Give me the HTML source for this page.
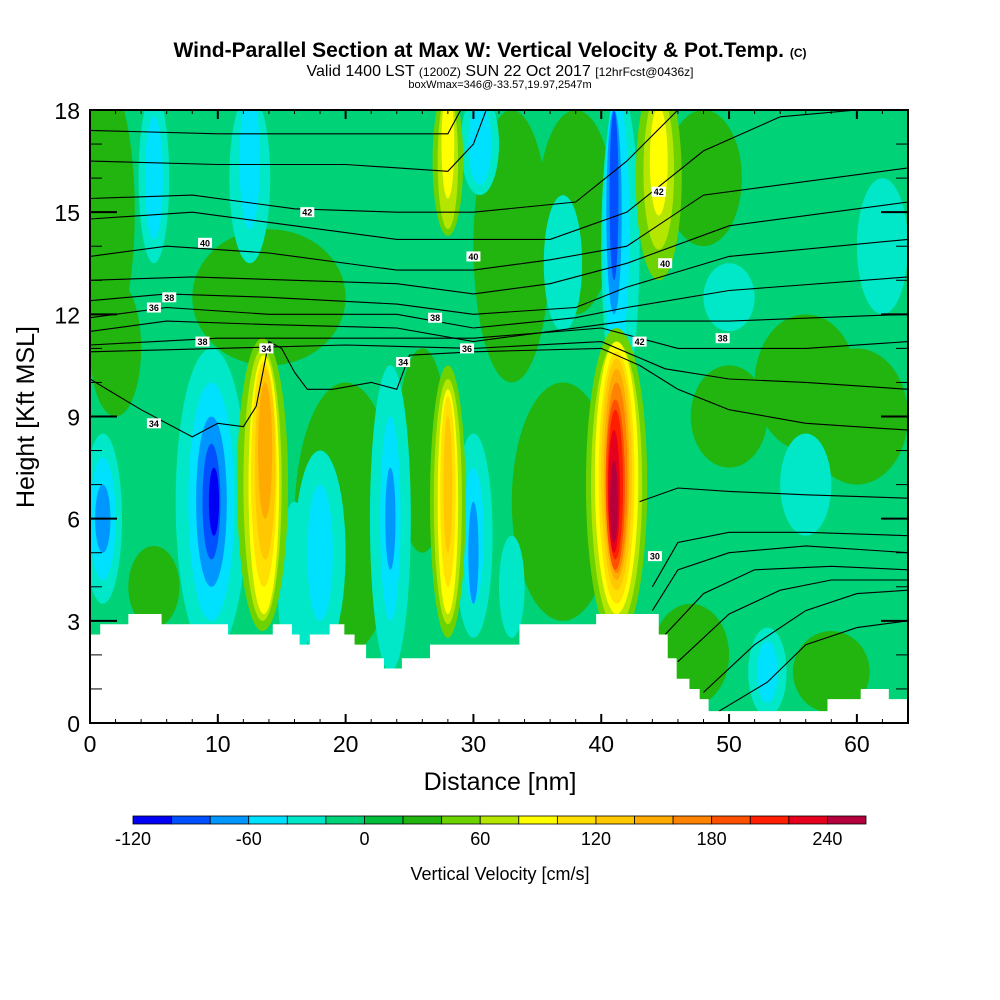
<!DOCTYPE html>
<html><head><meta charset="utf-8">
<style>
body{margin:0;background:#fff;}
svg{display:block;font-family:"Liberation Sans",sans-serif;}
</style></head>
<body>
<svg id="chart" width="1000" height="1000" viewBox="0 0 1000 1000">
<text x="490" y="57" text-anchor="middle" font-size="21" font-weight="bold">Wind-Parallel Section at Max W: Vertical Velocity &amp; Pot.Temp. <tspan font-size="12">(C)</tspan></text>
<text x="500" y="76" text-anchor="middle" font-size="16">Valid 1400 LST <tspan font-size="12">(1200Z)</tspan> SUN 22 Oct 2017 <tspan font-size="12">[12hrFcst@0436z]</tspan></text>
<text x="500" y="88" text-anchor="middle" font-size="11">boxWmax=346@-33.57,19.97,2547m</text>
<defs><clipPath id="pc"><rect x="90" y="110" width="818" height="613"/></clipPath></defs>
<g id="field" clip-path="url(#pc)"></g>
<g id="contours" clip-path="url(#pc)"></g>
<g id="terrain"></g>
<g id="axes"></g>
<text x="500" y="790" text-anchor="middle" font-size="25">Distance [nm]</text>
<text transform="translate(34,417) rotate(-90)" text-anchor="middle" font-size="25">Height [Kft MSL]</text>
<g id="cbar"></g>
<text x="500" y="880" text-anchor="middle" font-size="18">Vertical Velocity [cm/s]</text>
</svg>
<script>
// ---- data ----
const levels=[-120,-100,-80,-60,-40,-20,0,20,40,60,80,100,120,140,160,180,200,220,240,260];
const colors=["#0000f5","#0050ff","#0096ff","#00e0ff","#00e8c8","#00d278","#00be3c","#22b40f","#6cd200","#b4e600","#ffff00","#ffe000","#ffc800","#ffaa00","#ff8200","#ff5000","#ff1e00","#e6001e","#b4003c"];
const cbarLabels=[-120,-60,0,60,120,180,240];
const backgroundW=-10;
// blobs: [x nm, y kft, rx nm, ry kft, w cm/s]
const blobX=[1,14,20,37,33,38,48,56,60,50,47,58,5,26,2,
 1,9.5,18,23.5,30,33,5,12.5,30.5,41.5,37,50,53,56,62,16,
 1,9.5,18,23.5,30,5,12.5,30.5,41.2,53,
 1,9.5,23.5,30,41,
 9.5,41,9.7,
 13.5,28,41.2,28,44.5,
 13.5,28,41.2,28,44.5,
 13.6,28,41.2,28,44.5,
 13.6,28,41.2,13.7,28,41.2,13.7,41.2,41.2,41.1,41.1,41.0,41];
const blobY=[15,12.5,6,6.5,14,15,16,10,9,9,2,1.5,4,8,11,
 6,6.5,5,6,5.5,4,16,16,17,14,13.5,12.5,1.5,7,14,4,
 6,6.5,5,6,5.5,16,16.5,17,14.5,1.5,
 6,6.5,6,5,15,
 6.5,15.5,6.5,
 7,6.5,7,16.5,16,
 7,6.5,7,16.5,16.2,
 7,6.5,7.2,17,16.5,
 7.3,6.8,7.2,7.6,7,7.3,8,7.3,7.2,7,7,6.8,6.5];
const blobRX=[2.5,6,4,4,3,3,3,4,4,3,3,3,2,2,2,
 1.5,2.8,2,1.6,1.5,1,1.2,1.6,1.5,1.5,1.5,2,1.5,2,2,1.3,
 1,1.8,1,0.8,0.8,0.7,0.8,0.9,1,0.8,
 0.6,1.2,0.4,0.4,0.6,
 0.7,0.35,0.4,
 2,1.4,2.4,1.2,1.8,
 1.5,1.1,2,0.8,1.2,
 1.2,0.8,1.7,0.5,0.7,
 1,0.6,1.4,0.8,0.35,1.2,0.55,1,0.85,0.75,0.6,0.45,0.3];
const blobRY=[4,2,4,3.5,4,3,2,2,2,1.5,1.5,1.2,1.2,3,2,
 2.5,4.5,3,4.5,3,1.5,2.5,2.5,1.5,4.5,2,1,1.3,1.5,2,2.5,
 1.8,3.5,2,3,2,1.8,2,1.2,4,0.9,
 1,2.5,1.5,1.5,3,
 1.7,2.5,1,
 4.3,4,4.6,2.2,3,
 4,3.6,4.2,2,2.3,
 3.8,3.3,4,1.6,1.6,
 3.3,2.8,3.7,2.8,2,3.4,2,3.1,2.8,2.5,2.2,1.8,1.2];
const blobW=[30,30,30,30,30,30,30,30,30,30,30,30,30,30,30,
 -30,-30,-30,-30,-30,-30,-30,-30,-30,-30,-30,-30,-30,-30,-30,-30,
 -50,-50,-50,-50,-50,-50,-50,-50,-50,-50,
 -70,-70,-70,-70,-70,
 -90,-90,-110,
 50,50,50,50,50,
 70,70,70,70,70,
 90,90,90,90,90,
 110,110,110,130,130,130,150,150,170,190,210,230,250];
// terrain steps
const terrX=[0,0.8,3,5.6,10.8,14.3,15.8,16.4,17.2,18.75,19.9,20.7,21.6,23,24.4,26.6,28.1,33.6,39.6,44.5,45.2,45.9,46.9,47.7,48.4,49.1,57.7,60.3,62.5,64];
const terrH=[2.6,2.9,3.2,2.9,2.6,2.9,2.6,2.3,2.6,2.9,2.6,2.3,1.9,1.6,1.9,2.3,2.3,2.9,3.2,2.6,1.9,1.3,1.0,0.7,0.35,0.35,0.7,1.0,0.7];
// theta contours: x nm and height kft
const thetaX=[
 [0,4,8,10,12,13,14,15,16,17,19,22,24,25,30,40,43,46,50,56,64],
 [0,10,20,30,40,45,50,56,64],[0,10,20,30,40,46,56,64],
 [0,6,14,24,30,36,42,50,64],[0,6,14,24,30,38,42,50,64],
 [0,6,14,24,30,38,42,50,64],[0,8,16,24,30,36,42,50,64],
 [0,6,14,24,30,36,42,48,64],[0,8,16,24,30,36,42,48,54,60],
 [0,8,16,24,30,38,42,46],[0,10,20,28,30,31],[0,10,20,28,29],
 [43,46,50,56,64],[44,46,50,56,64],[44,46,50,56,64],[45,48,52,58,64],
 [46,50,54,58,64],[48,52,56,60,64],[49,53,56,60,64]];
const thetaH=[
 [10.1,9.2,8.4,8.8,8.7,9.3,11.2,11.0,10.3,9.8,9.8,10.0,9.8,10.8,10.9,11.0,10.5,9.8,9.2,8.8,8.6],
 [10.9,11.0,11.1,11.0,11.2,10.4,10.1,10.0,9.8],[11.1,11.3,11.3,11.3,11.6,11.0,11.0,11.2],
 [11.5,11.8,11.7,11.6,11.2,11.5,11.8,11.8,12.0],[11.9,12.2,12.0,12.0,11.6,11.9,12.2,12.7,13.1],
 [12.4,12.6,12.5,12.3,12.0,12.2,12.8,13.7,14.2],[13.0,13.1,13.0,12.9,12.6,12.9,13.5,14.6,15.3],
 [13.7,14.0,13.8,13.3,13.3,13.6,14.0,15.5,16.3],[14.8,15.0,14.6,14.2,14.2,14.2,15.0,16.8,17.8,18],
 [15.4,15.5,15.1,15.0,15.0,15.3,16.5,18],[16.5,16.4,16.4,16.2,17,18],[17.4,17.3,17.3,17.3,18],
 [6.5,6.9,6.8,6.7,6.6],[4.0,5.3,5.6,5.6,5.5],[3.3,4.5,5.0,5.2,5.0],[2.6,3.8,4.5,4.6,4.5],
 [1.8,3.2,3.9,4.2,4.2],[0.9,2.3,3.3,3.8,3.9],[0.3,1.2,2.3,2.8,3.0]];
const labelText=["34","36","38","40","42","42","40","38","38","36","34","34","38","40","42","30"];
const labelX=[5,5,6.2,9,17,44.5,30,27,8.8,29.5,24.5,13.8,49.5,45,43,44.2];
const labelY=[8.8,12.2,12.5,14.1,15.0,15.6,13.7,11.9,11.2,11.0,10.6,11.0,11.3,13.5,11.2,4.9];
// ---- scales ----
const X0=90,X1=908,Y0=723,Y1=110;
const sx=v=>X0+v*(X1-X0)/64;
const sy=v=>Y0-v*(Y0-Y1)/18;
const colorOf=w=>colors[Math.max(0,Math.min(colors.length-1,Math.floor((w+120)/20)))];
const NS="http://www.w3.org/2000/svg";
function mk(tag,attrs,parent){const e=document.createElementNS(NS,tag);for(const k in attrs)e.setAttribute(k,attrs[k]);parent.appendChild(e);return e;}
const field=document.getElementById('field');
const bg=mk('rect',{x:X0,y:Y1,width:X1-X0,height:Y0-Y1,fill:colorOf(backgroundW)},field);


for(let i=0;i<blobX.length;i++){
 const e=mk('ellipse',{cx:sx(blobX[i]),cy:sy(blobY[i]),rx:sx(blobRX[i])-X0,ry:Y0-sy(blobRY[i]),fill:colorOf(blobW[i])},field);
 
 
}
const cg=document.getElementById('contours');
for(let i=0;i<thetaX.length;i++){
 let d='';thetaX[i].forEach((x,j)=>{d+=(j?'L':'M')+sx(x).toFixed(1)+','+sy(thetaH[i][j]).toFixed(1);});
 const p=mk('path',{d:d,fill:'none',stroke:'#000','stroke-width':1.1},cg);
 
 
}
for(let i=0;i<labelText.length;i++){
 const g=mk('g',{},cg);
 
 
 mk('rect',{x:sx(labelX[i])-7,y:sy(labelY[i])-5,width:14,height:10,fill:'#fff'},g);
 const t=mk('text',{x:sx(labelX[i]),y:sy(labelY[i])+3.5,'text-anchor':'middle','font-size':9,'font-weight':'bold'},g);
 t.textContent=labelText[i];
}
// terrain
let td='M'+sx(0)+','+Y0;
for(let i=0;i<terrH.length;i++){td+='L'+sx(terrX[i])+','+sy(terrH[i])+'L'+sx(terrX[i+1])+','+sy(terrH[i]);}
td+='L'+sx(64)+','+Y0+'Z';
const tp=mk('path',{d:td,fill:'#fff'},document.getElementById('terrain'));


// axes
const ax=document.getElementById('axes');
mk('rect',{x:X0,y:Y1,width:X1-X0,height:Y0-Y1,fill:'none',stroke:'#000','stroke-width':2},ax);
for(let v=0;v<=64;v+=2){
 const L=v%10===0?9:4;
 mk('line',{x1:sx(v),x2:sx(v),y1:Y0,y2:Y0-L,stroke:'#000','stroke-width':v%10===0?2:1},ax);
 mk('line',{x1:sx(v),x2:sx(v),y1:Y1,y2:Y1+L,stroke:'#000','stroke-width':v%10===0?2:1},ax);
 if(v%10===0){const t=mk('text',{x:sx(v),y:752,'text-anchor':'middle','font-size':23},ax);t.textContent=v;
  }
}
for(let v=0;v<=18;v++){
 const L=v%3===0?27:12;
 mk('line',{x1:X0,x2:X0+L,y1:sy(v),y2:sy(v),stroke:'#000','stroke-width':v%3===0?2:1},ax);
 mk('line',{x1:X1,x2:X1-L,y1:sy(v),y2:sy(v),stroke:'#000','stroke-width':v%3===0?2:1},ax);
 if(v%3===0){const t=mk('text',{x:80,y:sy(v)+9,'text-anchor':'end','font-size':23},ax);t.textContent=v;
  }
}
// colorbar
const cb=document.getElementById('cbar');
const CB0=133,CB1=866,cw=(CB1-CB0)/colors.length;
colors.forEach((c,i)=>{const r=mk('rect',{x:CB0+i*cw,y:816,width:cw,height:8,fill:c,stroke:'#000','stroke-width':0.8},cb);
 });
cbarLabels.forEach(v=>{const i=levels.indexOf(v);const t=mk('text',{x:CB0+i*cw,y:845,'text-anchor':'middle','font-size':18},cb);t.textContent=v;
 });
</script>
</body></html>
